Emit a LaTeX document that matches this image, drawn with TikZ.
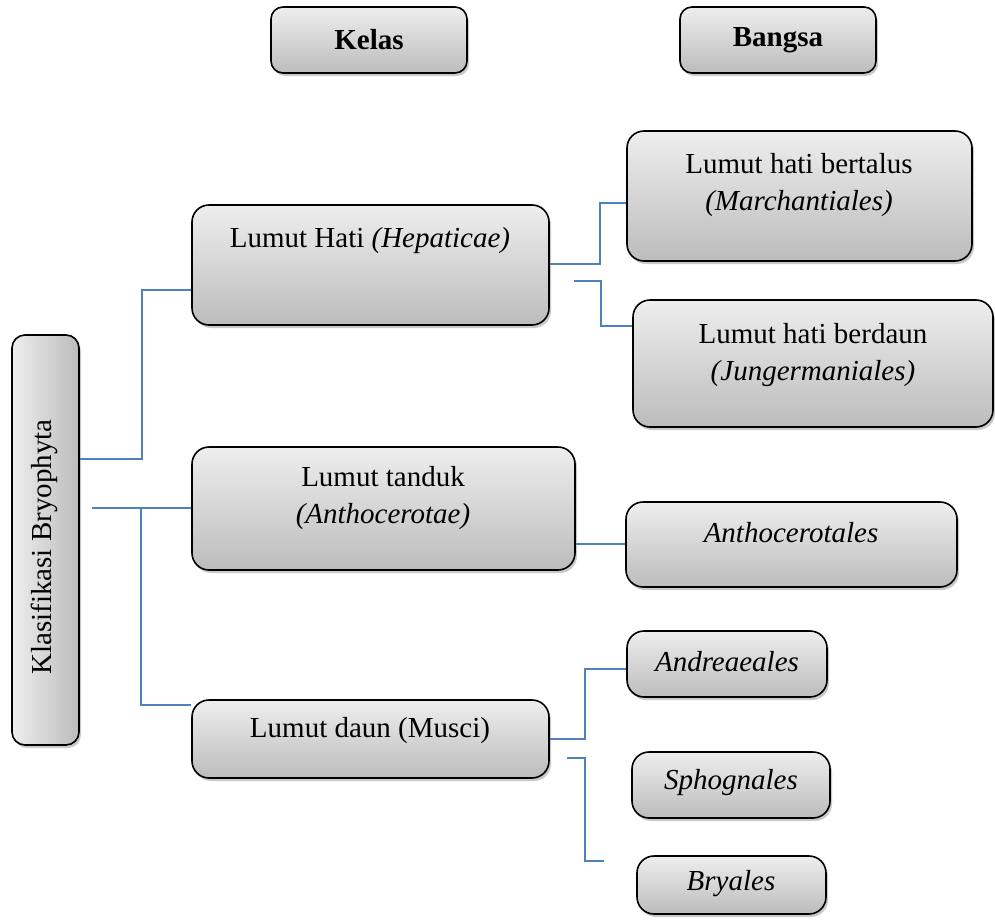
\documentclass[tikz,border=0pt]{standalone}
\usepackage{fontspec}
\setmainfont{Liberation Serif}
\usetikzlibrary{shadows}
\definecolor{linkblue}{RGB}{79,129,189}
\definecolor{boxtop}{RGB}{238,238,238}
\definecolor{boxbot}{RGB}{188,188,188}
\tikzset{
  gbox/.style={draw=black, line width=1.6pt, rounded corners=17pt,
    top color=boxtop, bottom color=boxbot, inner sep=0pt,
    drop shadow={shadow xshift=2pt, shadow yshift=-3pt, opacity=0.35, fill=black!60}},
  vbox/.style={draw=black, line width=1.6pt, rounded corners=13pt,
    left color=boxtop, right color=boxbot, inner sep=0pt,
    drop shadow={shadow xshift=2pt, shadow yshift=-3pt, opacity=0.35, fill=black!60}},
  txt/.style={align=center, inner sep=0pt, font=\fontsize{29}{37}\selectfont},
  link/.style={draw=linkblue, line width=1.6pt}
}
\newcommand{\boxat}[5]{% name, x1, y1, x2, y2
  \node[gbox, minimum width={#4-#2}, minimum height={#5-#3}] (#1) at ({(#2+#4)/2},{(#3+#5)/2}) {};}
\begin{document}
\begin{tikzpicture}[x=1pt,y=-1pt]
\useasboundingbox (0,0) rectangle (995,921);
% header boxes
\node[gbox, rounded corners=12pt, minimum width=196pt, minimum height=66pt] (kelas) at (369,40) {};
\node[txt, font=\fontsize{29}{37}\selectfont\bfseries] (kelasT) at (369,40) {Kelas};
\node[gbox, rounded corners=12pt, minimum width=196pt, minimum height=66pt] (bangsa) at (778,40) {};
\node[txt, font=\fontsize{29}{37}\selectfont\bfseries] (bangsaT) at (778,40) {Bangsa};
% root
\node[vbox, minimum width=67pt, minimum height=410pt] (root) at (45.5,540) {};
\node[txt, rotate=90] (rootT) at (44,547) {Klasifikasi Bryophyta};
% classes
\boxat{hati}{192}{205}{549}{325}
\node[txt] (hatiT) at (370,241) {Lumut Hati \textit{(Hepaticae)}};
\boxat{tanduk}{192}{447}{575}{570}
\node[txt] (tandukT) at (383,498) {Lumut tanduk\\\textit{(Anthocerotae)}};
\boxat{daun}{192}{700}{549}{778}
\node[txt] (daunT) at (370,731) {Lumut daun (Musci)};
% orders
\boxat{march}{627}{131}{972}{261}
\node[txt] (marchT) at (799,185) {Lumut hati bertalus\\\textit{(Marchantiales)}};
\boxat{junger}{633}{300}{993}{427}
\node[txt] (jungerT) at (813,355) {Lumut hati berdaun\\\textit{(Jungermaniales)}};
\boxat{antho}{626}{502}{957}{587}
\node[txt] (anthoT) at (791,533) {\textit{Anthocerotales}};
\boxat{andre}{627}{631}{827}{697}
\node[txt] (andreT) at (727,662) {\textit{Andreaeales}};
\boxat{sphog}{632}{752}{830}{818}
\node[txt] (sphogT) at (731,783) {\textit{Sphognales}};
\boxat{bryal}{637}{856}{826}{914}
\node[txt] (bryalT) at (731,884) {\textit{Bryales}};
% connectors
\coordinate (r1) at (root.east |- 0,459);
\draw[link] (r1) -- (142,459) -- (142,290) -- (hati.west |- 0,290);
\coordinate (r2) at (92,508);
\draw[link] (r2) -- (tanduk.west |- 0,508);
\draw[link] (141,508) -- (141,705) -- (daun.west |- 0,705);
\draw[link] (hati.east |- 0,264) -- (600,264) -- (600,203) -- (march.west |- 0,203);
\coordinate (f1) at (574,281);
\draw[link] (f1) -- (601,281) -- (601,326) -- (junger.west |- 0,326);
\draw[link] (tanduk.east |- 0,544) -- (antho.west |- 0,544);
\draw[link] (daun.east |- 0,739) -- (585,739) -- (585,669) -- (andre.west |- 0,669);
\coordinate (f2) at (567,758);
\coordinate (f3) at (604,861);
\draw[link] (f2) -- (585,758) -- (585,861) -- (f3);
\end{tikzpicture}
\end{document}
